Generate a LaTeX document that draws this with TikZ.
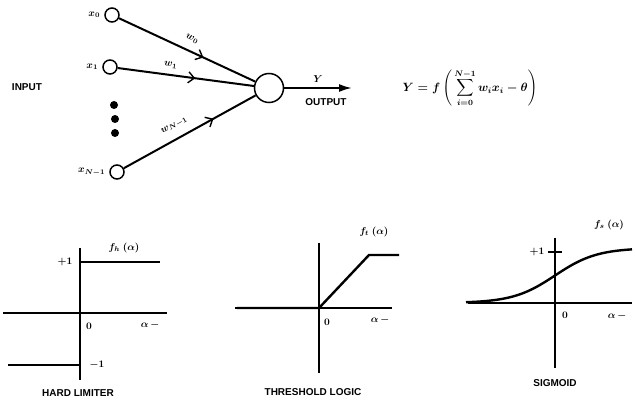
\documentclass[tikz,border=0pt]{standalone}
\usepackage{amsmath,amssymb}
\usepackage{fontspec}
\setmainfont{Liberation Sans}
\usepackage{tikz}
\usetikzlibrary{positioning, arrows.meta, decorations.markings}

\begin{document}
\boldmath
\begin{tikzpicture}[
        x=1pt, y=-1pt,
        font=\bfseries\fontsize{10}{12}\selectfont,
        unit/.style={draw, circle, line width=1.5pt, minimum size=14pt, inner sep=0pt, fill=white},
        sumunit/.style={draw, circle, line width=1.5pt, minimum size=29pt, inner sep=0pt, fill=white},
        dot/.style={circle, fill=black, minimum size=8pt, inner sep=0pt},
        weight/.style={line width=2pt, postaction={decorate}, decoration={markings, mark=at position #1 with {\arrow[line width=1.4pt]{Straight Barb[length=6pt, width=11pt]}}}},
        weight/.default=0.6,
        axis/.style={line width=1.6pt},
        curve/.style={line width=2.4pt},
        lbl/.style={font=\bfseries\fontsize{10}{12}\selectfont, inner sep=1pt}
        ]
        \useasboundingbox (0,0) rectangle (635,406);

        % neuron
        \node[unit] (in0) at (112,15) {};
        \node[unit] (in1) at (110,67) {};
        \node[unit] (inN) at (117,172) {};
        \node[dot] (d1) at (114,105) {};
        \node[dot] (d2) at (115,119) {};
        \node[dot] (d3) at (115,133) {};
        \node[sumunit] (out) at (269,88) {};
        \node[lbl, left=3pt of in0] (x0) {$x_0$};
        \node[lbl, left=3pt of in1] (x1) {$x_1$};
        \node[lbl, left=3pt of inN] (xN) {$x_{N-1}$};
        \node (input) at (27,87) {INPUT};

        \draw[weight=0.62] (in0) -- (out) node[lbl, pos=0.5, sloped, above=7pt] {$w_0$};
        \draw[weight=0.57] (in1) -- (out) node[lbl, pos=0.38, sloped, above=5pt] {$w_1$};
        \draw[weight=0.68] (inN) -- (out) node[lbl, pos=0.43, sloped, above=7pt] {$w_{N-1}$};

        \coordinate (yend) at (352,88);
        \draw[-{Latex[length=13pt, width=8pt]}, line width=2pt] (out) -- (yend) node[lbl, midway, above=3pt] {$Y$};
        \node (output) at (326,102) {OUTPUT};

        \node[font=\fontsize{12}{14}\selectfont] (eq) at (470,88)
            {$\displaystyle Y = f\left(\,\sum_{i=0}^{N-1} w_i x_i - \theta\right)$};

        % hard limiter
        \draw[axis] (3,313) -- (167,313);
        \draw[axis] (80,248) -- (80,380);
        \draw[curve] (80,262) -- (160,262);
        \draw[curve] (8,365) -- (80,365);
        \node[lbl] (fh) at (124,248) {$f_h\ (\alpha)$};
        \node[lbl] (hp1) at (65,262) {$+1$};
        \node[lbl] (hm1) at (97,365) {$-1$};
        \node[lbl] (h0) at (89,326) {$0$};
        \node[lbl] (ha) at (150,325) {$\alpha\,-$};
        \node (hard) at (78,393) {HARD LIMITER};

        % threshold logic
        \draw[axis] (235,308) -- (392,308);
        \draw[axis] (319,243) -- (319,373);
        \draw[curve] (237,308) -- (319,308) -- (369,255) -- (399,255);
        \node[lbl] (ft) at (374,232) {$f_t\ (\alpha)$};
        \node[lbl] (t0) at (327,322) {$0$};
        \node[lbl] (ta) at (380,320) {$\alpha\,-$};
        \node (thresh) at (313,392) {THRESHOLD LOGIC};

        % sigmoid
        \draw[axis] (468,303) -- (632,303);
        \draw[axis] (555,238) -- (555,368);
        \draw[axis] (548,252) -- (562,252);
        \draw[curve] plot[domain=466:632, samples=80, smooth] (\x, {303-55/(1+exp(-(\x-555)/21))});
        \node[lbl] (fs) at (609,225) {$f_s\ (\alpha)$};
        \node[lbl] (sp1) at (537,252) {$+1$};
        \node[lbl] (s0) at (565,315) {$0$};
        \node[lbl] (sa) at (617,316) {$\alpha\,-$};
        \node (sig) at (555,383) {SIGMOID};
    \end{tikzpicture}
\end{document}
